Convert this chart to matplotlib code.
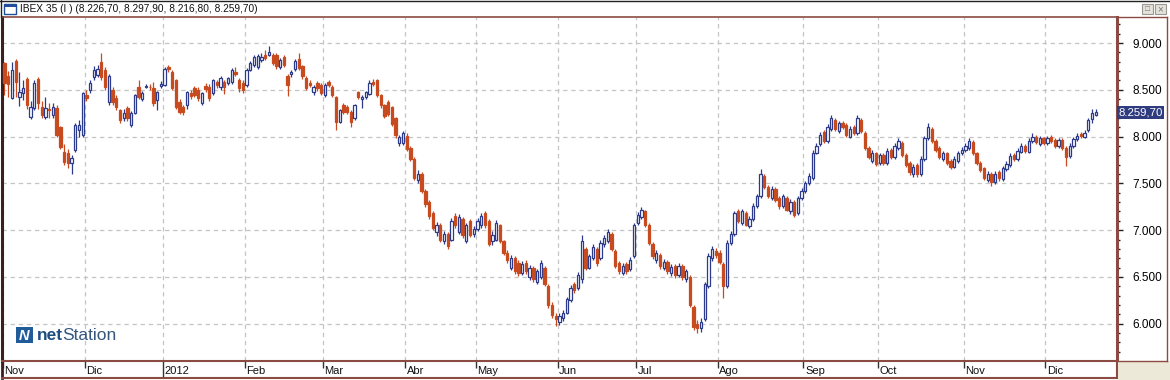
import numpy as np
import matplotlib
matplotlib.use('Agg')
import matplotlib.pyplot as plt
from matplotlib.patches import Rectangle
from matplotlib.lines import Line2D
from matplotlib.ticker import FuncFormatter
from matplotlib.transforms import blended_transform_factory

# IBEX 35, velas diarias nov-2011 .. dic-2012
month_labels = ["Nov", "Dic", "2012", "Feb", "Mar", "Abr", "May",
                "Jun", "Jul", "Ago", "Sep", "Oct", "Nov", "Dic"]
month_days = [22, 21, 22, 21, 22, 19, 22, 21, 22, 23, 20, 23, 22, 14]

opens = [
    # nov 2011
    8786, 8650, 8412, 8808, 8423, 8466, 8615, 8210, 8306, 8615, 8317,
    8210, 8300, 8231, 8306, 8103, 7835, 7825, 7718, 7857, 8070, 8017,
    # dic
    8444, 8498, 8637, 8658, 8797, 8712, 8370, 8498, 8412, 8284, 8199,
    8305, 8124, 8252, 8530, 8402, 8535, 8535, 8519, 8391, 8540,
    # ene 2012
    8551, 8744, 8690, 8605, 8370, 8316, 8338, 8466, 8520, 8498, 8359,
    8540, 8530, 8466, 8583, 8530, 8583, 8573, 8583, 8690, 8605, 8573,
    # feb
    8551, 8712, 8765, 8744, 8818, 8872, 8872, 8872, 8872, 8744, 8850,
    8650, 8670, 8722, 8829, 8754, 8626, 8573, 8476, 8573, 8551,
    # mar
    8445, 8583, 8530, 8423, 8156, 8338, 8316, 8263, 8200, 8476, 8400,
    8423, 8455, 8583, 8605, 8445, 8338, 8370, 8316, 8200, 7932, 7932,
    # abr
    8010, 7880, 7760, 7540, 7600, 7420, 7300, 7180, 6980, 7060, 6880,
    6960, 6900, 7150, 6980, 7120, 6880, 7100, 6960,
    # may
    7011, 7050, 7180, 7100, 6880, 6900, 7050, 6880, 6760, 6600, 6700,
    6650, 6540, 6650, 6500, 6600, 6450, 6500, 6600, 6400, 6200, 6080,
    # jun
    6020, 6060, 6120, 6250, 6420, 6380, 6480, 6800, 6600, 6700, 6800,
    6700, 6850, 6880, 6960, 6780, 6650, 6540, 6640, 6580, 6720,
    # jul
    7080, 7140, 7200, 7060, 6850, 6680, 6740, 6600, 6660, 6540, 6620,
    6520, 6620, 6480, 6500, 6180, 6000, 5950, 6050, 6400, 6700, 6780,
    # ago
    6760, 6640, 6400, 6860, 6960, 7200, 7080, 7180, 7040, 7120, 7260,
    7360, 7580, 7460, 7340, 7440, 7340, 7260, 7340, 7200, 7300, 7180,
    7340,
    # sep
    7420, 7500, 7560, 7830, 7920, 8050, 7950, 8080, 8180, 8060, 8140,
    8120, 8000, 8100, 8040, 8180, 8040, 7880, 7740, 7820,
    # oct
    7720, 7800, 7720, 7860, 7780, 7880, 7930, 7800, 7720, 7600, 7700,
    7600, 7760, 7980, 8080, 7950, 7880, 7760, 7820, 7740, 7680, 7740,
    7820,
    # nov
    7860, 7880, 7940, 7820, 7720, 7660, 7540, 7600, 7520, 7620, 7550,
    7650, 7700, 7800, 7760, 7840, 7900, 7840, 7950, 8000, 7920, 7980,
    # dic
    7930, 8000, 7960, 7900, 7960, 7880, 7790, 7900, 7970, 8030, 8000,
    8070, 8185, 8226.7,
]

highs = [
    8800, 8700, 8797, 8830, 8690, 8610, 8640, 8380, 8600, 8640, 8380,
    8420, 8360, 8360, 8340, 8110, 7920, 7870, 7800, 8140, 8180, 8480,
    8500, 8600, 8750, 8760, 8893, 8740, 8670, 8530, 8440, 8300, 8290,
    8330, 8270, 8460, 8600, 8490, 8560, 8560, 8580, 8490, 8590,
    8740, 8770, 8710, 8620, 8400, 8340, 8490, 8500, 8540, 8530, 8480,
    8570, 8560, 8620, 8610, 8650, 8600, 8640, 8730, 8740, 8630, 8600,
    8730, 8810, 8870, 8880, 8890, 8930, 8967, 8890, 8890, 8840, 8870,
    8670, 8710, 8830, 8890, 8770, 8650, 8600, 8550, 8590, 8570,
    8570, 8610, 8550, 8430, 8300, 8360, 8340, 8280, 8350, 8490, 8440,
    8490, 8610, 8620, 8620, 8460, 8350, 8390, 8330, 8210, 8020, 8060,
    8040, 7900, 7780, 7640, 7620, 7440, 7320, 7200, 7090, 7080, 6990,
    6980, 7130, 7180, 7170, 7140, 7080, 7120, 7040,
    7130, 7180, 7200, 7120, 6990, 7110, 7070, 6900, 6790, 6730, 6720,
    6680, 6670, 6680, 6630, 6620, 6590, 6680, 6620, 6420, 6230, 6110,
    6110, 6150, 6290, 6410, 6450, 6550, 6950, 6820, 6750, 6850, 6820,
    6890, 6950, 7010, 6980, 6800, 6670, 6650, 6660, 6710, 7080,
    7190, 7250, 7220, 7080, 6870, 6790, 6760, 6690, 6680, 6640, 6640,
    6650, 6640, 6590, 6520, 6200, 6040, 6060, 6450, 6760, 6830, 6810,
    6790, 6660, 6890, 6990, 7210, 7230, 7230, 7200, 7150, 7290, 7390,
    7650, 7600, 7480, 7470, 7460, 7360, 7390, 7360, 7330, 7320, 7370,
    7450,
    7530, 7610, 7860, 7930, 8050, 8070, 8130, 8230, 8200, 8170, 8170,
    8140, 8110, 8120, 8230, 8200, 8060, 7900, 7860, 7840,
    7830, 7820, 7880, 7880, 7930, 7980, 7950, 7820, 7740, 7710, 7720,
    7790, 8010, 8140, 8100, 7970, 7900, 7850, 7840, 7760, 7790, 7850,
    7890,
    7930, 7980, 7960, 7840, 7740, 7680, 7630, 7620, 7630, 7640, 7690,
    7740, 7820, 7830, 7880, 7930, 7920, 7980, 8040, 8020, 8010, 8000,
    8010, 8020, 7980, 7990, 7980, 7900, 7930, 8000, 8040, 8050, 8070,
    8200, 8300, 8297.9,
]

lows = [
    8440, 8420, 8400, 8424, 8330, 8390, 8295, 8190, 8280, 8290, 8200,
    8190, 8200, 8200, 8000, 7870, 7700, 7660, 7600, 7840, 8000, 8000,
    8380, 8470, 8600, 8640, 8610, 8500, 8340, 8340, 8280, 8150, 8170,
    8170, 8100, 8240, 8400, 8380, 8520, 8500, 8330, 8280, 8520,
    8540, 8690, 8500, 8290, 8240, 8230, 8300, 8400, 8420, 8380, 8340,
    8480, 8380, 8440, 8520, 8500, 8460, 8550, 8560, 8650, 8480, 8470,
    8530, 8700, 8740, 8720, 8800, 8820, 8860, 8760, 8720, 8720, 8740,
    8430, 8640, 8700, 8710, 8620, 8500, 8530, 8440, 8490, 8440,
    8420, 8530, 8420, 8070, 8140, 8240, 8240, 8100, 8180, 8400, 8310,
    8400, 8440, 8540, 8420, 8310, 8200, 8220, 8110, 7990, 7900, 7910,
    7850, 7740, 7540, 7500, 7400, 7250, 7120, 7000, 6940, 6870, 6850,
    6800, 6880, 7020, 6960, 6920, 6860, 6930, 6930,
    6990, 7020, 7020, 6830, 6840, 6880, 6860, 6730, 6650, 6570, 6530,
    6510, 6520, 6530, 6470, 6450, 6420, 6480, 6400, 6170, 6060, 5980,
    5990, 6030, 6100, 6230, 6330, 6360, 6440, 6570, 6580, 6680, 6620,
    6680, 6820, 6860, 6780, 6600, 6530, 6520, 6530, 6560, 6700,
    7050, 7120, 7030, 6840, 6690, 6650, 6590, 6570, 6530, 6510, 6490,
    6500, 6470, 6450, 6180, 5930, 5900, 5910, 6030, 6380, 6670, 6700,
    6640, 6280, 6380, 6840, 6940, 7080, 7060, 7040, 7020, 7100, 7240,
    7340, 7440, 7340, 7320, 7300, 7230, 7240, 7200, 7170, 7140, 7160,
    7320,
    7400, 7480, 7540, 7810, 7900, 7930, 7930, 8060, 8060, 8040, 8080,
    8000, 7980, 8020, 8020, 8040, 7860, 7760, 7720, 7690,
    7700, 7700, 7700, 7760, 7760, 7860, 7780, 7680, 7590, 7570, 7570,
    7580, 7740, 7960, 7930, 7840, 7760, 7740, 7700, 7650, 7660, 7720,
    7800,
    7840, 7860, 7800, 7700, 7620, 7540, 7520, 7470, 7490, 7530, 7530,
    7630, 7680, 7740, 7740, 7820, 7830, 7820, 7930, 7920, 7900, 7910,
    7910, 7930, 7880, 7880, 7860, 7690, 7770, 7880, 7950, 7990, 7980,
    8050, 8150, 8216.8,
]

closes = [
    8573, 8560, 8712, 8583, 8476, 8519, 8338, 8317, 8573, 8359, 8231,
    8306, 8285, 8317, 8017, 7889, 7729, 7718, 7771, 8124, 8124, 8466,
    8412, 8573, 8712, 8722, 8636, 8530, 8647, 8370, 8316, 8177, 8252,
    8199, 8252, 8444, 8423, 8466, 8545, 8525, 8359, 8476, 8566,
    8722, 8722, 8519, 8316, 8263, 8263, 8476, 8434, 8440, 8412, 8466,
    8510, 8412, 8605, 8551, 8626, 8530, 8626, 8712, 8670, 8519, 8498,
    8712, 8786, 8850, 8861, 8850, 8840, 8904, 8786, 8754, 8818, 8765,
    8550, 8690, 8808, 8733, 8647, 8519, 8551, 8530, 8519, 8466,
    8551, 8551, 8445, 8156, 8284, 8263, 8263, 8156, 8338, 8423, 8423,
    8476, 8573, 8562, 8445, 8338, 8220, 8242, 8135, 8017, 7996, 8040,
    7870, 7760, 7560, 7600, 7420, 7280, 7150, 7020, 7060, 6900, 6960,
    6830, 7100, 7050, 7140, 6950, 7050, 6950, 7011,
    7100, 7150, 7050, 6850, 6950, 7080, 6880, 6760, 6680, 6700, 6560,
    6540, 6640, 6560, 6600, 6480, 6560, 6650, 6420, 6200, 6090, 6050,
    6080, 6120, 6260, 6380, 6360, 6520, 6880, 6600, 6720, 6820, 6650,
    6860, 6920, 6980, 6800, 6620, 6560, 6620, 6560, 6680, 7050,
    7160, 7220, 7060, 6860, 6720, 6760, 6620, 6660, 6560, 6610, 6520,
    6620, 6500, 6560, 6200, 5960, 5950, 6020, 6420, 6720, 6800, 6740,
    6660, 6400, 6860, 6960, 7180, 7100, 7200, 7060, 7120, 7260, 7360,
    7600, 7460, 7360, 7440, 7320, 7260, 7360, 7220, 7300, 7160, 7340,
    7420,
    7500, 7580, 7830, 7900, 8020, 7950, 8100, 8200, 8080, 8140, 8100,
    8020, 8080, 8040, 8200, 8060, 7880, 7780, 7830, 7710,
    7800, 7720, 7850, 7780, 7900, 7950, 7800, 7700, 7620, 7680, 7600,
    7760, 7980, 8100, 7950, 7860, 7780, 7820, 7720, 7680, 7760, 7820,
    7860,
    7900, 7950, 7820, 7720, 7640, 7560, 7600, 7520, 7600, 7560, 7660,
    7710, 7790, 7760, 7850, 7900, 7850, 7950, 8000, 7940, 7980, 7934,
    7980, 7950, 7900, 7960, 7880, 7780, 7900, 7970, 8010, 8010, 8040,
    8177, 8250, 8259.7,
]

price_levels = [6000, 6500, 7000, 7500, 8000, 8500, 9000]
title_text = "IBEX 35 (I ) (8.226,70, 8.297,90, 8.216,80, 8.259,70)"

UP_EDGE = '#2C3A8C'
DOWN = '#C84B1F'
BORDER = '#8B4B42'
GRIDC = '#C4C4C4'
W, H = 1170, 380


def fx(px):
    return px / W


def fy(py):
    # y de pixel desde arriba -> fraccion de figura
    return 1 - py / H


def thousands(v, pos=None):
    return f"{v:,.0f}".replace(",", ".")


def draw_candles(ax, o, h, l, c):
    x = np.arange(len(o))
    up = c >= o
    wick_col = np.where(up, UP_EDGE, DOWN)
    ax.vlines(x, l, h, colors=wick_col, linewidth=0.9, zorder=2)
    bottom = np.minimum(o, c)
    height = np.maximum(np.abs(c - o), 8)
    face = np.where(up, 'white', DOWN)
    ax.bar(x, height, width=0.62, bottom=bottom, color=face,
           edgecolor=wick_col, linewidth=0.9, zorder=3)


def main():
    plt.rcParams['font.family'] = ['Liberation Sans', 'DejaVu Sans']
    o = np.array(opens, dtype=float)
    h = np.array(highs, dtype=float)
    l = np.array(lows, dtype=float)
    c = np.array(closes, dtype=float)

    starts = np.concatenate([[0], np.cumsum(month_days)[:-1]])
    bounds = starts - 0.5

    fig = plt.figure(figsize=(W / 100, H / 100), dpi=100)
    fig.patch.set_facecolor('white')

    # area del grafico
    ax = fig.add_axes([fx(2), fy(361), fx(1115), (361 - 17) / H])
    draw_candles(ax, o, h, l, c)
    ax.set_xlim(-0.67, 298.7)
    ax.set_ylim(5602, 9278)

    ax.set_xticks(bounds)
    ax.tick_params(axis='x', length=0, labelbottom=False)
    ax.yaxis.tick_right()
    ax.set_yticks(price_levels)
    ax.set_yticks(np.arange(5700, 9300, 100), minor=True)
    ax.yaxis.set_major_formatter(FuncFormatter(thousands))
    ax.tick_params(axis='y', which='major', length=4.3, width=1,
                   color='#222222', pad=7, labelsize=8.5)
    ax.tick_params(axis='y', which='minor', length=2.2, width=1,
                   color='#222222')
    ax.grid(True, which='major', color=GRIDC, linestyle=(0, (3.5, 3)),
            linewidth=0.9)
    ax.set_axisbelow(True)
    for side in ['top', 'bottom']:
        ax.spines[side].set_color(BORDER)
        ax.spines[side].set_linewidth(1.2)
    ax.spines['right'].set_color(BORDER)
    ax.spines['right'].set_linewidth(2.2)
    ax.spines['left'].set_color('#3a2020')
    ax.spines['left'].set_linewidth(2.2)

    # etiqueta del ultimo precio
    tr = blended_transform_factory(ax.transAxes, ax.transData)
    last = f"{c[-1]:,.2f}".replace(",", "X").replace(".", ",").replace("X", ".")
    ax.text(1.0015, c[-1], last, transform=tr, ha='left', va='center',
            color='white', fontsize=8.2, clip_on=False,
            bbox=dict(boxstyle='square,pad=0.12', fc='#2F3C80', ec='none'))

    # logo
    fig.patches.append(Rectangle((fx(16), fy(343)), fx(17), 16 / H,
                                 transform=fig.transFigure,
                                 facecolor='#1F5C99', edgecolor='none'))
    fig.text(fx(24.5), fy(335.5), "N", color='white', fontsize=10.5,
             fontweight='bold', style='italic', ha='center', va='center')
    t1 = fig.text(fx(37), fy(336), "net", color='#1F4F80', fontsize=12.5,
                  fontweight='bold', va='center')
    fig.canvas.draw()
    bb = t1.get_window_extent()
    fig.text((bb.x1 - 1) / W, fy(336), "Station", color='#35577F',
             fontsize=12.5, va='center')

    # banda de meses
    axb = fig.add_axes([fx(2), fy(378), fx(1115), (378 - 361) / H])
    axb.set_xlim(ax.get_xlim())
    axb.set_ylim(0, 1)
    axb.set_xticks([])
    axb.set_yticks([])
    for side in ['top', 'bottom', 'right']:
        axb.spines[side].set_color(BORDER)
        axb.spines[side].set_linewidth(1.5)
    axb.spines['left'].set_color('#3a2020')
    axb.spines['left'].set_linewidth(2)
    for b, lab in zip(bounds, month_labels):
        top = 0.0 if lab == "2012" else 0.6
        axb.vlines(b, top, 1, color='#333333', linewidth=1)
        axb.text(b + 0.45, 0.42, lab, fontsize=8, ha='left', va='center',
                 color='#111111')

    # panel derecho y esquina
    fig.patches.append(Rectangle((fx(1118), fy(380)), fx(52), 19 / H,
                                 transform=fig.transFigure,
                                 facecolor='#ECE9D8', edgecolor='none'))
    fig.lines.append(Line2D([fx(1167), fx(1167)], [fy(361), fy(17)],
                            transform=fig.transFigure, color=BORDER, lw=1))
    fig.lines.append(Line2D([fx(1117), fx(1167)], [fy(17), fy(17)],
                            transform=fig.transFigure, color=BORDER, lw=1))
    fig.lines.append(Line2D([fx(1117), fx(1167)], [fy(361), fy(361)],
                            transform=fig.transFigure, color=BORDER, lw=1))

    # barra de titulo
    fig.lines.append(Line2D([0, 1], [fy(0.5), fy(0.5)],
                            transform=fig.transFigure, color='#222222', lw=1))
    fig.lines.append(Line2D([fx(0.5), fx(0.5)], [fy(0), fy(17)],
                            transform=fig.transFigure, color='#222222', lw=1))
    fig.patches.append(Rectangle((fx(4), fy(14)), fx(12), 10 / H,
                                 transform=fig.transFigure,
                                 facecolor='white', edgecolor='#1F4F9A',
                                 lw=1))
    fig.patches.append(Rectangle((fx(4), fy(7)), fx(12), 3 / H,
                                 transform=fig.transFigure,
                                 facecolor='#1F4F9A', edgecolor='none'))
    fig.text(fx(20), fy(8.5), title_text, fontsize=7.3, va='center',
             color='#111111')
    for bx in [1142, 1155]:
        fig.patches.append(Rectangle((fx(bx), fy(14)), fx(11), 10 / H,
                                     transform=fig.transFigure,
                                     facecolor='#E4E2DA',
                                     edgecolor='#9A9890', lw=0.8))
    fig.text(fx(1160.5), fy(9), "×", fontsize=7, ha='center',
             va='center', color='#777777')
    fig.text(fx(1147.5), fy(9.5), "□", fontsize=6, ha='center',
             va='center', color='#777777')

    fig.savefig('out.png', dpi=100)


if __name__ == '__main__':
    main()
